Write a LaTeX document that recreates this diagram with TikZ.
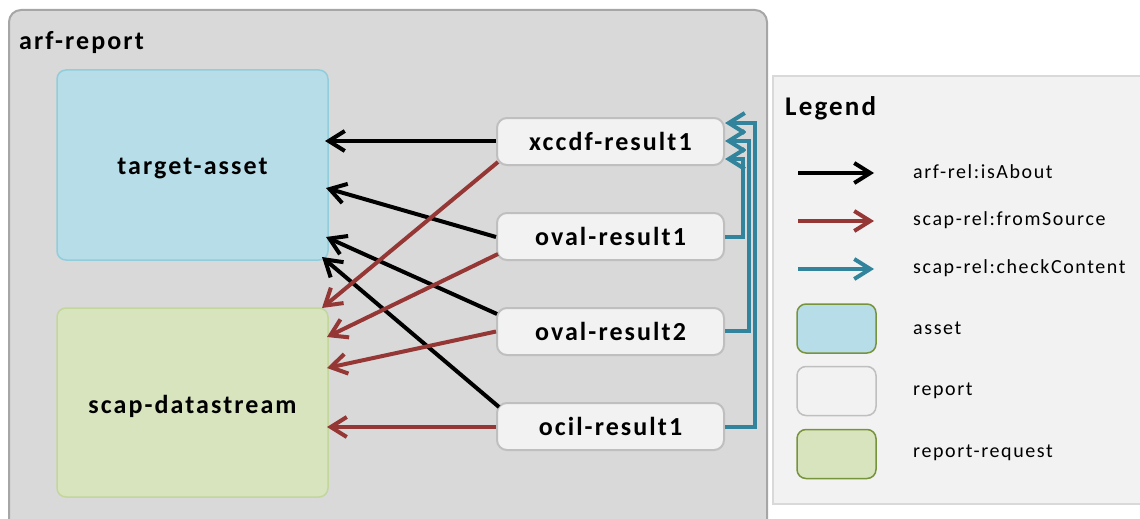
\documentclass[tikz,border=0pt]{standalone}
\usepackage{fontspec}
\setmainfont{Carlito}[LetterSpace=8]
\usetikzlibrary{arrows.meta}
\definecolor{outerfill}{HTML}{D9D9D9}
\definecolor{outerdraw}{HTML}{A6A6A6}
\definecolor{assetfill}{HTML}{B7DDE8}
\definecolor{assetdraw}{HTML}{92CDDC}
\definecolor{reqfill}{HTML}{D7E4BD}
\definecolor{reqdraw}{HTML}{C3D69B}
\definecolor{legreqdraw}{HTML}{77933C}
\definecolor{repfill}{HTML}{F2F2F2}
\definecolor{repdraw}{HTML}{BFBFBF}
\definecolor{legdraw}{HTML}{D9D9D9}
\definecolor{relred}{HTML}{953735}
\definecolor{relteal}{HTML}{31849B}
\tikzset{
  bigfont/.style={font=\bfseries\fontsize{26}{30}\selectfont},
  bigbox/.style={draw, line width=1.5pt, rounded corners=9pt},
  assetbox/.style={bigbox, fill=assetfill, draw=assetdraw},
  reqbox/.style={bigbox, fill=reqfill, draw=reqdraw},
  repbox/.style={draw=repdraw, fill=repfill, line width=2pt, rounded corners=10pt, minimum width=227pt, minimum height=47pt, inner sep=0pt, bigfont},
  tip/.style={-{Straight Barb[length=16pt,width=20pt]}},
  isabout/.style={tip, line width=4pt, black},
  fromsrc/.style={tip, line width=4pt, relred},
  checkc/.style={tip, line width=4pt, relteal},
  leglab/.style={anchor=west, inner sep=0pt, font=\fontsize{20}{24}\selectfont},
  legsw/.style={line width=1.5pt, rounded corners=9pt, minimum width=79pt, minimum height=49pt, inner sep=0pt},
}
\begin{document}
\begin{tikzpicture}[x=1pt,y=-1pt]
\useasboundingbox (0,0) rectangle (1140,519);
\begin{scope}
\clip (0,0) rectangle (1140,519);
% outer arf-report container
\draw[fill=outerfill, draw=outerdraw, line width=2pt, rounded corners=12pt] (9,10) rectangle (767,535);
% legend container
\draw[fill=repfill, draw=legdraw, line width=2pt] (773,76) rectangle (1160,504);
\end{scope}
\node[anchor=base west, inner sep=0pt, bigfont] (title) at (19,49) {arf-report};
\node[anchor=base west, inner sep=0pt, font=\bfseries\fontsize{27}{31}\selectfont] (legtitle) at (785,115) {Legend};

% main nodes
\draw[assetbox] (57,70) rectangle (328,260);
\node[bigfont] (asset) at (192.5,168) {target-asset};
\draw[reqbox] (57,308) rectangle (328,497);
\node[bigfont] (ds) at (192.5,406) {scap-datastream};

\node[repbox] (x1) at (610.5,141.5) {xccdf-result1};
\node[repbox] (o1) at (610.5,236.5) {oval-result1};
\node[repbox] (o2) at (610.5,331.5) {oval-result2};
\node[repbox] (c1) at (610.5,426.5) {ocil-result1};

% end points on the left boxes
\coordinate (a1) at (325,141);
\coordinate (a2) at (326,188);
\coordinate (a3) at (326,237);
\coordinate (a4) at (322,257);
\coordinate (d1) at (322,308);
\coordinate (d2) at (327,337);
\coordinate (d3) at (327,368);
\coordinate (d4) at (327,427);

% isAbout
\draw[isabout] (x1.west |- 0,141) -- (a1);
\draw[isabout] ([yshift=-0.5pt]o1.west) -- (a2);
\draw[isabout] ([xshift=1pt,yshift=17.5pt]o2.west) -- (a3);
\draw[isabout] ([xshift=3pt,yshift=19.5pt]c1.west) -- (a4);
% fromSource
\draw[fromsrc] ([xshift=2pt,yshift=-20.5pt]x1.west) -- (d1);
\draw[fromsrc] ([xshift=2pt,yshift=-17.5pt]o1.west) -- (d2);
\draw[fromsrc] (o2.west) -- (d3);
\draw[fromsrc] ([yshift=-0.5pt]c1.west) -- (d4);
% checkContent
\draw[checkc] ([yshift=-0.5pt]o1.east) -| (743,159) -- ([yshift=-17.5pt]x1.east);
\draw[checkc] ([yshift=0.5pt]o2.east) -| (749,141) -- ([yshift=0.5pt]x1.east);
\draw[checkc] ([yshift=-0.5pt]c1.east) -| (755,123) -- ([yshift=18.5pt]x1.east);

% legend
\coordinate (l1s) at (798,173); \coordinate (l1e) at (874,173);
\coordinate (l2s) at (798,221); \coordinate (l2e) at (874,221);
\coordinate (l3s) at (798,269); \coordinate (l3e) at (874,269);
\draw[isabout] (l1s) -- (l1e);
\draw[fromsrc] (l2s) -- (l2e);
\draw[checkc] (l3s) -- (l3e);
\node[leglab] (t1) at (913,172) {arf-rel:isAbout};
\node[leglab] (t2) at (913,220) {scap-rel:fromSource};
\node[leglab] (t3) at (913,268) {scap-rel:checkContent};
\node[legsw, fill=assetfill, draw=legreqdraw] (s1) at (836.5,328.5) {};
\node[legsw, fill=repfill, draw=repdraw] (s2) at (836.5,391) {};
\node[legsw, fill=reqfill, draw=legreqdraw] (s3) at (836.5,454) {};
\node[leglab] (t4) at (913,328) {asset};
\node[leglab] (t5) at (913,391) {report};
\node[leglab] (t6) at (913,453) {report-request};
\end{tikzpicture}
\end{document}
